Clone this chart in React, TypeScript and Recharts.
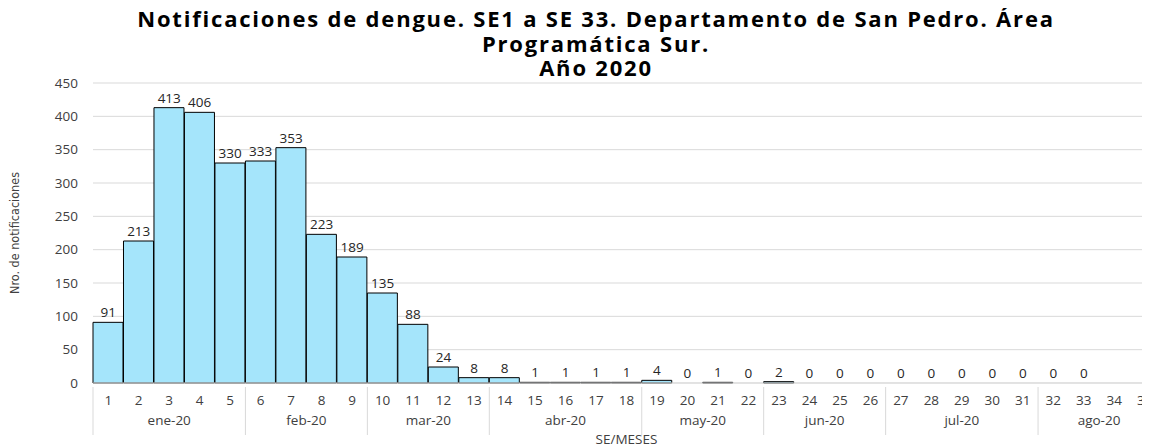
import React from "react";
import { ComposedChart, Bar, Line, XAxis, YAxis, CartesianGrid, LabelList } from "recharts";

const weeks = ["1","2","3","4","5","6","7","8","9","10","11","12","13","14","15","16","17","18","19","20","21","22","23","24","25","26","27","28","29","30","31","32","33","34","35"];
const notifications: (number | null)[] = [91,213,413,406,330,333,353,223,189,135,88,24,8,8,1,1,1,1,4,0,1,0,2,0,0,0,0,0,0,0,0,0,0,null,null];
const months = ["ene-20","feb-20","mar-20","abr-20","may-20","jun-20","jul-20","ago-20"];
const monthWeekCounts = [5,4,4,5,4,4,5,4];
const yTicks = [0,50,100,150,200,250,300,350,400,450];

const data = weeks.map((w, i) => ({ week: w, value: notifications[i] }));

const monthStart: number[] = [];
{
  let s = 0;
  monthWeekCounts.forEach((c) => { monthStart.push(s); s += c; });
}

const FONT = "'Open Sans', 'Noto Sans', sans-serif";

const MonthTick = (props: any) => {
  const { x, y, payload } = props;
  const idx: number = payload.index;
  const bw: number = (payload.offset || 0) * 2;
  const left = x - bw / 2;
  const top = y - 28;
  const bottom = y + 20;
  const elems: React.ReactNode[] = [];
  const mi = monthStart.indexOf(idx);
  if (mi >= 0) {
    elems.push(<line key="l" x1={left} x2={left} y1={top} y2={bottom} stroke="#d9d9d9" strokeWidth={1} />);
    const cx = left + (monthWeekCounts[mi] * bw) / 2;
    elems.push(
      <text key="t" x={cx} y={y + 10} textAnchor="middle" fontSize={13.5} fill="#404040" fontFamily={FONT}>
        {months[mi]}
      </text>
    );
  }
  if (idx === weeks.length - 1) {
    const right = x + bw / 2;
    elems.push(<line key="r" x1={right} x2={right} y1={top} y2={bottom} stroke="#d9d9d9" strokeWidth={1} />);
  }
  return <g>{elems}</g>;
};

const ValueLabel = (props: any) => {
  const { x, y, value } = props;
  if (value === null || value === undefined) return null;
  return (
    <text x={x} y={y - 5} textAnchor="middle" fontSize={13.5} fill="#262626" fontFamily={FONT}>
      {value}
    </text>
  );
};

export default function App() {
  return (
    <div style={{ position: "relative", width: 1180, height: 440, fontFamily: FONT }}>
      <div style={{ position: "absolute", left: 0, top: -2, width: 1176, textAlign: "center", fontWeight: 700, fontSize: 22, letterSpacing: "1.8px", lineHeight: "24.5px", color: "#000", fontFamily: FONT, zIndex: 2 }}>
        Notificaciones de dengue. SE1 a SE 33. Departamento de San Pedro. Área<br />
        Programática Sur.<br />
        Año 2020
      </div>
      <ComposedChart
        width={1180}
        height={440}
        data={data}
        margin={{ top: 75, right: 28, left: 0, bottom: 2 }}
        barCategoryGap={0}
      >
        <CartesianGrid vertical={false} stroke="#d9d9d9" />
        <XAxis
          xAxisId={0}
          dataKey="week"
          interval={0}
          tickLine={false}
          axisLine={{ stroke: "#d9d9d9" }}
          tick={{ fontSize: 13.5, fill: "#404040", fontFamily: FONT }}
          tickMargin={6}
          height={24}
        />
        <XAxis
          xAxisId={1}
          dataKey="week"
          interval={0}
          tickLine={false}
          axisLine={false}
          tick={<MonthTick />}
          height={39}
          label={{ value: "SE/MESES", position: "insideBottom", offset: 2, fontSize: 13.5, fill: "#404040", fontFamily: FONT }}
        />
        <YAxis
          domain={[0, 450]}
          ticks={yTicks}
          interval={0}
          width={85}
          tickLine={false}
          axisLine={false}
          tickSize={6}
          tickMargin={9}
          tick={{ fontSize: 13.5, fill: "#404040", fontFamily: FONT }}
          label={{ value: "Nro. de notificaciones", angle: -90, position: "insideLeft", offset: 7, style: { textAnchor: "middle" }, fontSize: 12.5, fill: "#404040", fontFamily: "'Liberation Sans Narrow', 'DejaVu Sans Condensed', sans-serif" }}
        />
        <Bar dataKey="value" fill="#A5E5FB" stroke="#000" strokeWidth={1} isAnimationActive={false} />
        <Line dataKey="value" stroke="none" dot={false} activeDot={false} isAnimationActive={false} connectNulls={false}>
          <LabelList dataKey="value" content={<ValueLabel />} />
        </Line>
      </ComposedChart>
    </div>
  );
}
